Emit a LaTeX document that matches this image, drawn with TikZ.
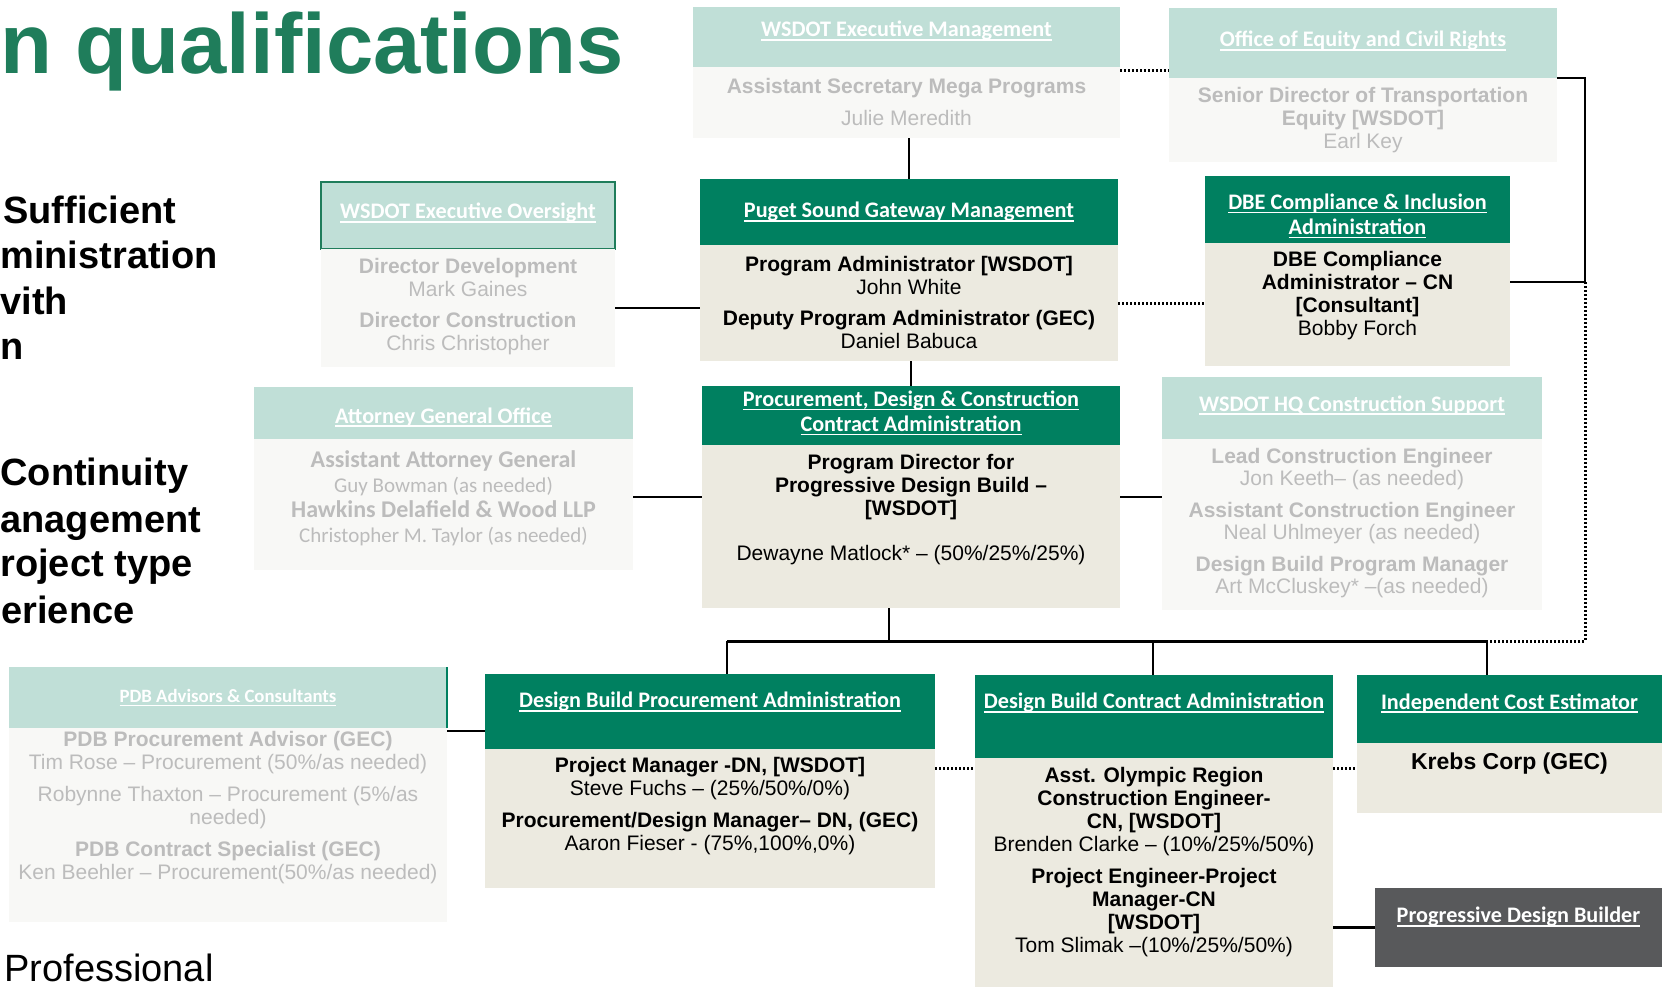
\documentclass[tikz,border=0pt]{standalone}
\usepackage{fontspec}
\setmainfont{Liberation Sans}
\newfontfamily\calfont{Carlito}
\usepackage{tikz}
\usetikzlibrary{fit}

\definecolor{titlegreen}{RGB}{31,125,91}
\definecolor{pgdark}{RGB}{0,128,96}
\definecolor{pglight}{RGB}{192,223,215}
\definecolor{bodylight}{RGB}{248,248,246}
\definecolor{bodybeige}{RGB}{236,234,224}
\definecolor{greytext}{RGB}{188,188,188}
\definecolor{buildergrey}{RGB}{88,89,91}

% underlined header text
\newcommand{\hul}[1]{\leavevmode\setbox0=\hbox{#1}\rlap{\rule[-1.8pt]{\wd0}{0.7pt}}\box0}

\tikzset{
  hdrdark/.style={rectangle, inner sep=0pt, outer sep=0pt, fill=pgdark},
  hdrpale/.style={rectangle, inner sep=0pt, outer sep=0pt, fill=pglight},
  bodypale/.style={rectangle, inner sep=0pt, outer sep=0pt, fill=bodylight},
  beigebox/.style={rectangle, inner sep=0pt, outer sep=0pt, fill=bodybeige},
  hdrtext/.style={text=white, inner sep=0pt, align=center, font=\calfont\bfseries\fontsize{11.1}{12.3}\selectfont},
  darktext/.style={text=black, inner sep=0pt, align=center, font=\fontsize{10.5}{11.5}\selectfont},
  paletext/.style={text=greytext, inner sep=0pt, align=center, font=\fontsize{10.5}{11.5}\selectfont},
  sidetext/.style={anchor=base west, inner sep=0pt, font=\bfseries\fontsize{19}{23}\selectfont},
  link/.style={line width=1.3pt},
  dotlink/.style={line width=1.5pt, dash pattern=on 1pt off 1pt},
}

\begin{document}
\begin{tikzpicture}[x=0.5pt, y=-0.5pt]
    \useasboundingbox (0,0) rectangle (1665,987);

    % Slide text
    \node[anchor=base east, inner sep=0pt, text=titlegreen, font=\bfseries\fontsize{42.5}{46}\selectfont] (title) at (624,73) {n qualifications};
    \node[sidetext] (sideA) at (3,223) {Sufficient};
    \node[sidetext] (sideB) at (0,268) {ministration};
    \node[sidetext] (sideC) at (0,314) {vith};
    \node[sidetext] (sideD) at (0,359) {n};
    \node[sidetext] (sideE) at (0,485) {Continuity};
    \node[sidetext] (sideF) at (0,532) {anagement};
    \node[sidetext] (sideG) at (0,576) {roject type};
    \node[sidetext] (sideH) at (1,623) {erience};
    \node[sidetext, font=\fontsize{19}{23}\selectfont] (sideI) at (4,981) {Professional};

    % Boxes
    \node[hdrpale, fit={(693,7) (1120,67)}] (execH) {};
    \node[bodypale, fit={(693,67) (1120,138)}] (execB) {};
    \node[hdrpale, fit={(1169,8) (1557,78)}] (eqH) {};
    \node[bodypale, fit={(1169,78) (1557,162)}] (eqB) {};
    \node[hdrpale, draw=titlegreen, line width=0.8pt, fit={(321,182) (615,249)}] (ovH) {};
    \node[bodypale, fit={(321,249) (615,367)}] (ovB) {};
    \node[hdrdark, fit={(700,179) (1118,245)}] (pgH) {};
    \node[beigebox, fit={(700,245) (1118,361)}] (pgB) {};
    \node[hdrdark, fit={(1205,176) (1510,243)}] (dbeH) {};
    \node[beigebox, fit={(1205,243) (1510,366)}] (dbeB) {};
    \node[hdrpale, fit={(254,387) (633,439)}] (agH) {};
    \node[bodypale, fit={(254,439) (633,570)}] (agB) {};
    \node[hdrdark, fit={(702,386) (1120,445)}] (pdcH) {};
    \node[beigebox, fit={(702,445) (1120,608)}] (pdcB) {};
    \node[hdrpale, fit={(1162,377) (1542,439)}] (hqH) {};
    \node[bodypale, fit={(1162,439) (1542,610)}] (hqB) {};
    \node[hdrpale, fit={(9,667) (447,728)}] (advH) {};
    \node[bodypale, fit={(9,728) (447,922)}] (advB) {};
    \node[hdrdark, fit={(485,674) (935,749)}] (dbpH) {};
    \node[beigebox, fit={(485,749) (935,888)}] (dbpB) {};
    \node[hdrdark, fit={(975,675) (1333,758)}] (dbcH) {};
    \node[beigebox, fit={(975,758) (1333,987)}] (dbcB) {};
    \node[hdrdark, fit={(1357,675) (1662,743)}] (iceH) {};
    \node[beigebox, fit={(1357,743) (1662,813)}] (iceB) {};
    \node[rectangle, inner sep=0pt, outer sep=0pt, fill=buildergrey, fit={(1375,888) (1662,967)}] (pdbB) {};
    \draw[pgdark, line width=1pt] (advH.north east) -- (advH.south east);

    % Header texts
    \node[hdrtext] (execT) at (906.5,31) {\hul{WSDOT Executive Management}};
    \node[hdrtext] (eqT) at (1363,41) {\hul{Office of Equity and Civil Rights}};
    \node[hdrtext] (ovT) at (468,213) {\hul{WSDOT Executive Oversight}};
    \node[hdrtext] (pgT) at (909,212) {\hul{Puget Sound Gateway Management}};
    \node[hdrtext] (dbeT) at (1357.5,216) {\hul{DBE Compliance \& Inclusion}\\\hul{Administration}};
    \node[hdrtext] (agT) at (443.5,417) {\hul{Attorney General Office}};
    \node[hdrtext] (pdcT) at (911,413) {\hul{Procurement, Design \& Construction}\\\hul{Contract Administration}};
    \node[hdrtext] (hqT) at (1352,405) {\hul{WSDOT HQ Construction Support}};
    \node[hdrtext, font=\calfont\bfseries\fontsize{9.4}{11}\selectfont] (advT) at (228,698) {\hul{PDB Advisors \& Consultants}};
    \node[hdrtext] (dbpT) at (710,702) {\hul{Design Build Procurement Administration}};
    \node[hdrtext] (dbcT) at (1154,703) {\hul{Design Build Contract Administration}};
    \node[hdrtext] (iceT) at (1509.5,703) {\hul{Independent Cost Estimator}};
    \node[hdrtext] (pdbT) at (1518.5,917) {\hul{Progressive Design Builder}};

    % Body texts
    \node[paletext] (execN) at (906.5,102) {\textbf{Assistant Secretary Mega Programs}\\[4.5pt]Julie Meredith};
    \node[paletext] (eqN) at (1363,120) {\textbf{Senior Director of Transportation}\\\textbf{Equity [WSDOT]}\\Earl Key};
    \node[paletext] (ovN) at (468,307) {\textbf{Director Development}\\Mark Gaines\\[4pt]\textbf{Director Construction}\\Chris Christopher};
    \node[darktext] (pgN) at (909,302.5) {\textbf{Program Administrator [WSDOT]}\\John White\\[4pt]\textbf{Deputy Program Administrator (GEC)}\\Daniel Babuca};
    \node[darktext] (dbeN) at (1357.5,296) {\textbf{DBE Compliance}\\\textbf{Administrator – CN}\\\textbf{[Consultant]}\\Bobby Forch};
    \node[paletext, font=\calfont\fontsize{10.5}{12.5}\selectfont] (agN) at (443.5,498.5) {\textbf{\fontsize{12}{12.5}\selectfont Assistant Attorney General}\\Guy Bowman (as needed)\\\textbf{\fontsize{12}{12.5}\selectfont Hawkins Delafield \& Wood LLP}\\Christopher M. Taylor (as needed)};
    \node[darktext] (pdcN) at (911,509.5) {\textbf{Program Director for}\\\textbf{Progressive Design Build –}\\\textbf{[WSDOT]}\\[11pt]Dewayne Matlock* – (50\%/25\%/25\%)};
    \node[paletext, font=\fontsize{10.5}{11}\selectfont] (hqN) at (1352,523.5) {\textbf{Lead Construction Engineer}\\Jon Keeth– (as needed)\\[5pt]\textbf{Assistant Construction Engineer}\\Neal Uhlmeyer (as needed)\\[5pt]\textbf{Design Build Program Manager}\\Art McCluskey* –(as needed)};
    \node[paletext] (advN) at (228,807.5) {\textbf{PDB Procurement Advisor (GEC)}\\Tim Rose – Procurement (50\%/as needed)\\[4.5pt]Robynne Thaxton – Procurement (5\%/as\\needed)\\[4.5pt]\textbf{PDB Contract Specialist (GEC)}\\Ken Beehler – Procurement(50\%/as needed)};
    \node[darktext] (dbpN) at (710,806) {\textbf{Project Manager -DN, [WSDOT]}\\Steve Fuchs – (25\%/50\%/0\%)\\[4.5pt]\textbf{Procurement/Design Manager– DN, (GEC)}\\Aaron Fieser - (75\%,100\%,0\%)};
    \node[darktext] (dbcN) at (1154,862) {\textbf{Asst. Olympic Region}\\\textbf{Construction Engineer-}\\\textbf{CN, [WSDOT]}\\Brenden Clarke – (10\%/25\%/50\%)\\[4.5pt]\textbf{Project Engineer-Project}\\\textbf{Manager-CN}\\\textbf{[WSDOT]}\\Tom Slimak –(10\%/25\%/50\%)};
    \node[darktext, font=\bfseries\fontsize{11.5}{12.5}\selectfont] (iceN) at (1509.5,764) {Krebs Corp (GEC)};

    % Connectors
    \coordinate (eqc) at (1585,282);
    \coordinate (midrow) at (0,497);
    \coordinate (dotrow) at (0,768);
    \coordinate (busC) at (889,641);
    \coordinate (busL) at (727,641);
    \coordinate (busM) at (1153,641);
    \coordinate (busR) at (1487,641);

    \draw[link] (pgH.north |- execB.south) -- (pgH.north);
    \draw[link] (pdcH.north |- pgB.south) -- (pdcH.north);
    \draw[link] (ovB.east) -- (ovB.east -| pgB.west);
    \draw[link] (eqH.south east) -| (eqc) -- (eqc -| dbeB.east);
    \draw[link] (agB.east |- midrow) -- (pdcB.west |- midrow);
    \draw[link] (pdcB.east |- midrow) -- (hqB.west |- midrow);
    \draw[link] (busC |- pdcB.south) -- (busC);
    \draw[line width=1.5pt] (busL) -- (busR);
    \draw[link] (busL) -- (busL |- dbpH.north);
    \draw[link] (busM) -- (busM |- dbcH.north);
    \draw[link] (busR) -- (busR |- iceH.north);
    \draw[link] ([yshift=-1.5pt]advB.north east) -- ([yshift=-1.5pt]advB.north east -| dbpH.west);
    \draw[link] (pdbB.west -| dbcB.east) -- (pdbB.west);

    \draw[dotlink] ([yshift=-1.5pt]execH.south east) -- ([yshift=-1.5pt]execH.south east -| eqH.west);
    \draw[dotlink] (pgB.east) -- (pgB.east -| dbeB.west);
    \draw[dotlink] (eqc) |- (busR);
    \draw[dotlink] (dbpB.east |- dotrow) -- (dbcB.west |- dotrow);
    \draw[dotlink] (dbcB.east |- dotrow) -- (iceB.west |- dotrow);
\end{tikzpicture}
\end{document}
